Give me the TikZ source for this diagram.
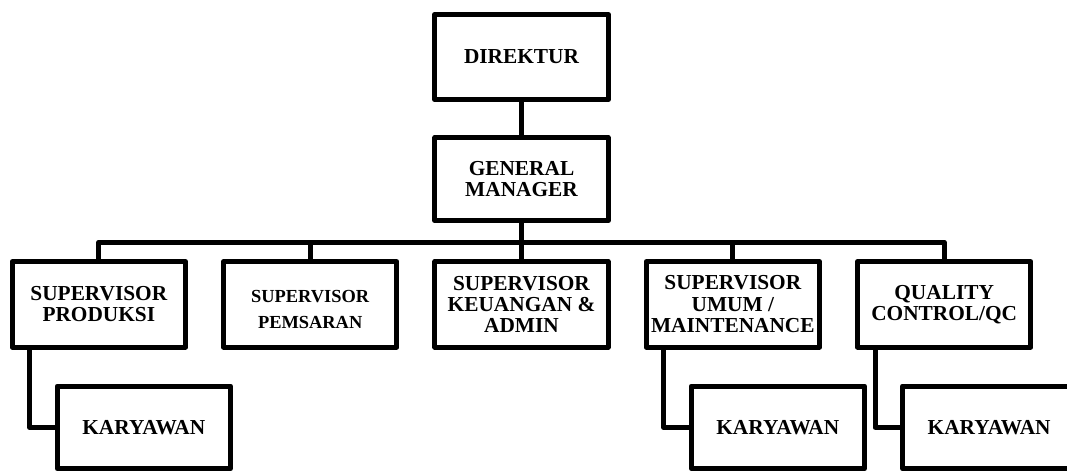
\documentclass[tikz,border=0pt]{standalone}
\usepackage{fontspec}
\setmainfont{Liberation Serif}
\usetikzlibrary{positioning}

\begin{document}
\begin{tikzpicture}[x=0.75pt,y=-0.75pt,
  node distance=24.75pt,
  post/.style={draw,line width=3.75pt,line join=round,minimum width=130pt,minimum height=64pt,
    align=center,inner sep=2pt,font=\bfseries\fontsize{16}{16}\selectfont},
  link/.style={line width=3.75pt,line join=round}]

  \useasboundingbox (0,0) rectangle (1067,471);

  \node[post] (dir) at (521.5,57) {DIREKTUR};
  \node[post,minimum height=62.25pt] (gm) [below=of dir] {GENERAL\\MANAGER};
  \node[post] (sp3) [below=27pt of gm] {SUPERVISOR\\KEUANGAN \&\\ADMIN};
  \node[post,font=\bfseries\fontsize{13.8}{20}\selectfont] (sp2) [left=of sp3]
    {\raisebox{-8pt}[0pt][0pt]{\begin{tabular}{@{}c@{}}SUPERVISOR\\PEMSARAN\end{tabular}}};
  \node[post] (sp1) [left=of sp2] {SUPERVISOR\\PRODUKSI};
  \node[post] (sp4) [right=of sp3] {SUPERVISOR\\UMUM /\\MAINTENANCE};
  \node[post] (sp5) [right=of sp4] {QUALITY\\CONTROL/QC};

  \foreach \s/\k in {sp1/k1,sp4/k4,sp5/k5}
    \node[post,minimum height=62pt] (\k) [below right=25.5pt and 33.75pt of \s.south west] {KARYAWAN};

  \coordinate[below=14.25pt of gm] (bus);
  \draw[link] (dir) -- (gm);
  \draw[link] (gm) -- (sp3);
  \foreach \s in {sp1,sp2,sp4,sp5}
    \draw[link] (\s.north) |- (bus);
  \foreach \s/\k in {sp1/k1,sp4/k4,sp5/k5}
    \draw[link] ([xshift=15pt]\s.south west) |- (\k.west);
\end{tikzpicture}
\end{document}
